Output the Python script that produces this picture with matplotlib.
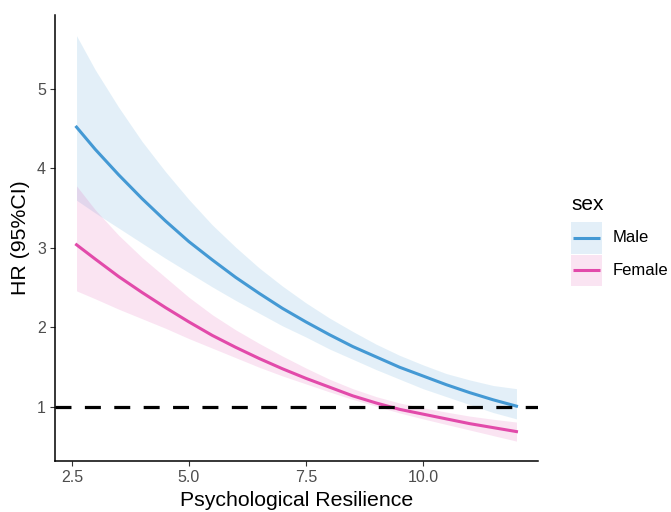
import matplotlib
matplotlib.use("Agg")
import matplotlib.pyplot as plt
from matplotlib.patches import Rectangle
from matplotlib.lines import Line2D

plt.rcParams['font.family'] = ['Liberation Sans', 'DejaVu Sans']

x = [2.6, 3.0, 3.5, 4.0, 4.5, 5.0, 5.5, 6.0, 6.5, 7.0, 7.5, 8.0, 8.5, 9.0, 9.5, 10.0, 10.5, 11.0, 11.5, 12.0]

male_hr = [4.52, 4.24, 3.92, 3.62, 3.34, 3.08, 2.85, 2.63, 2.43, 2.24, 2.07, 1.91, 1.76, 1.63, 1.50, 1.39, 1.28, 1.18, 1.09, 1.01]
male_hi = [5.67, 5.24, 4.77, 4.34, 3.96, 3.61, 3.29, 3.01, 2.75, 2.52, 2.31, 2.12, 1.95, 1.79, 1.65, 1.53, 1.42, 1.34, 1.27, 1.23]
male_lo = [3.60, 3.44, 3.25, 3.06, 2.87, 2.69, 2.51, 2.34, 2.18, 2.02, 1.88, 1.73, 1.60, 1.47, 1.35, 1.23, 1.13, 1.03, 0.93, 0.85]

female_hr = [3.04, 2.86, 2.64, 2.44, 2.25, 2.07, 1.90, 1.75, 1.61, 1.48, 1.36, 1.25, 1.14, 1.05, 0.97, 0.91, 0.85, 0.79, 0.74, 0.69]
female_hi = [3.78, 3.48, 3.16, 2.88, 2.63, 2.38, 2.16, 1.97, 1.80, 1.64, 1.49, 1.35, 1.23, 1.13, 1.05, 0.99, 0.935, 0.885, 0.845, 0.81]
female_lo = [2.46, 2.36, 2.23, 2.11, 1.99, 1.86, 1.74, 1.62, 1.50, 1.39, 1.29, 1.19, 1.095, 1.01, 0.925, 0.85, 0.78, 0.71, 0.64, 0.57]

x_ticks = [2.5, 5.0, 7.5, 10.0]
x_tick_labels = ["2.5", "5.0", "7.5", "10.0"]
y_ticks = [1, 2, 3, 4, 5]
ref_hr = 1

groups = ["Male", "Female"]
legend_title = "sex"

male_col = "#4499d4"
female_col = "#e24aaa"
colors = [male_col, female_col]

W, H = 671, 512
fig = plt.figure(figsize=(W / 100, H / 100), dpi=100)
ax = fig.add_axes([55/W, 51/H, (538-55)/W, (461-15)/H])

ax.fill_between(x, male_lo, male_hi, color=male_col, alpha=0.15, lw=0)
ax.fill_between(x, female_lo, female_hi, color=female_col, alpha=0.15, lw=0)
ax.plot(x, male_hr, color=male_col, lw=2.2)
ax.plot(x, female_hr, color=female_col, lw=2.2)
ax.axhline(ref_hr, color="black", lw=2.3, ls=(0, (5.0, 4.2)))

ax.set_xlim(2.14, 12.46)
ax.set_ylim(0.32, 5.93)
ax.set_xticks(x_ticks)
ax.set_xticklabels(x_tick_labels)
ax.set_yticks(y_ticks)
for s in ["top", "right"]:
    ax.spines[s].set_visible(False)
for s in ["left", "bottom"]:
    ax.spines[s].set_linewidth(1.1)
    ax.spines[s].set_color("black")
ax.tick_params(axis="both", direction="out", length=3.5, width=0.8, color="#333333",
               labelcolor="#4d4d4d", labelsize=11.5, pad=3)
ax.set_xlabel("Psychological Resilience", fontsize=15.3, labelpad=4.5)
ax.set_ylabel("HR (95%CI)", fontsize=15.3, labelpad=5)

# legend (drawn in figure pixel coordinates)
def fx(px):
    return px / W

def fy(py):
    return 1 - py / H

fig.text(fx(571), fy(204), legend_title, fontsize=15, ha="left", va="center")
key_top = 222
key_h = 32.5
for i, (g, c) in enumerate(zip(groups, colors)):
    top = key_top + i * key_h
    fig.add_artist(Rectangle((fx(571), fy(top + key_h - 1)), fx(31), (key_h - 1) / H,
                             transform=fig.transFigure, facecolor=c, alpha=0.15, lw=0))
    yc = top + (key_h - 1) / 2
    fig.add_artist(Line2D([fx(573), fx(600)], [fy(yc), fy(yc)], transform=fig.transFigure,
                          color=c, lw=2.2, solid_capstyle="butt"))
    fig.text(fx(613), fy(yc), g, fontsize=12, ha="left", va="center")

fig.savefig("out.png", dpi=100)
